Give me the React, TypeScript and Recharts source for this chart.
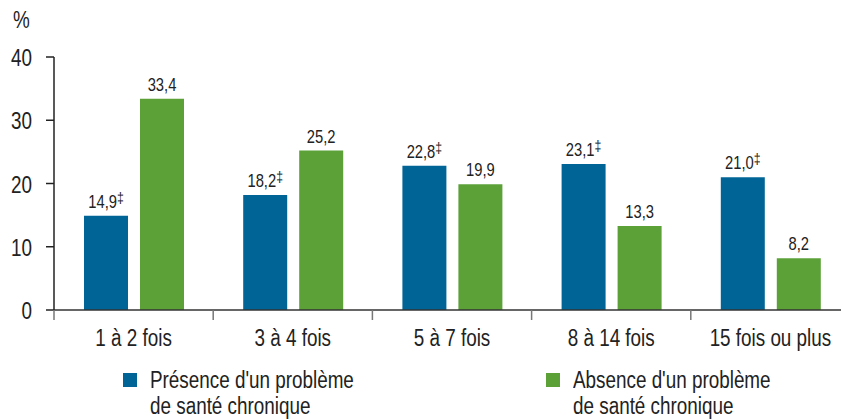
import React from 'react';
import { BarChart, Bar, XAxis, YAxis, LabelList } from 'recharts';

const categories = ['1 à 2 fois', '3 à 4 fois', '5 à 7 fois', '8 à 14 fois', '15 fois ou plus'];
const presence = [14.9, 18.2, 22.8, 23.1, 21.0];
const absence = [33.4, 25.2, 19.9, 13.3, 8.2];
const presenceFlag = ['‡', '‡', '‡', '‡', '‡'];
const yTicks = [0, 10, 20, 30, 40];
const seriesNames = [
  "Présence d'un problème\nde santé chronique",
  "Absence d'un problème\nde santé chronique",
];

const BLUE = '#006596';
const GREEN = '#5ba138';
const TEXT = '#222';
const FONT = '"Liberation Sans", Arial, sans-serif';
const SQUEEZE = 0.82; // fake a condensed face

const CHART_W = 850;
const LEFT = 54;
const BAND = (CHART_W - LEFT) / categories.length;

const data = categories.map((cat, i) => ({
  cat,
  presence: presence[i],
  absence: absence[i],
  flag: presenceFlag[i],
}));

const fmt = (v: number) => v.toFixed(1).replace('.', ',');

function NarrowText({ x, y, size, anchor, children }: any) {
  return (
    <text
      transform={`translate(${x} ${y}) scale(${SQUEEZE} 1)`}
      textAnchor={anchor}
      fontSize={size}
      fill={TEXT}
      fontFamily={FONT}
    >
      {children}
    </text>
  );
}

function ValueLabel(props: any) {
  const { x, y, width, value, index, flagged } = props;
  const flag = flagged ? data[index].flag : '';
  return (
    <NarrowText x={x + width / 2} y={y - 8} size={18} anchor="middle">
      {fmt(value)}
      {flag && (
        <tspan dy={-5} fontSize={15}>
          {flag}
        </tspan>
      )}
    </NarrowText>
  );
}

function CatTick(props: any) {
  const { x, y, payload } = props;
  return (
    <g>
      <line x1={x - BAND / 2} x2={x - BAND / 2} y1={y - 10} y2={y} stroke="#777" strokeWidth={1.5} />
      <NarrowText x={x} y={y + 26} size={23} anchor="middle">
        {payload.value}
      </NarrowText>
    </g>
  );
}

function ValueTick(props: any) {
  const { x, y, payload } = props;
  return (
    <NarrowText x={x} y={y + 9} size={23} anchor="end">
      {payload.value}
    </NarrowText>
  );
}

export default function App() {
  const colors = [BLUE, GREEN];
  const legendX = [123, 546];
  return (
    <div
      style={{
        position: 'absolute',
        left: 0,
        top: 0,
        width: 841,
        height: 420,
        overflow: 'hidden',
        background: '#fff',
        fontFamily: FONT,
        color: TEXT,
      }}
    >
      <div
        style={{
          position: 'absolute',
          left: 13,
          top: 7,
          fontSize: 23,
          transform: `scaleX(${SQUEEZE})`,
          transformOrigin: 'left',
        }}
      >
        %
      </div>
      <BarChart
        width={CHART_W}
        height={420}
        data={data}
        margin={{ top: 57, right: 0, left: 0, bottom: 70 }}
        barSize={44}
        barGap={12}
      >
        <XAxis
          dataKey="cat"
          tickLine={false}
          tickSize={10}
          tickMargin={0}
          axisLine={{ stroke: '#333', strokeWidth: 1.5 }}
          tick={<CatTick />}
          height={40}
          interval={0}
        />
        <YAxis
          domain={[0, 40]}
          ticks={yTicks}
          width={LEFT}
          tickSize={8}
          tickMargin={14}
          axisLine={{ stroke: '#222', strokeWidth: 1.5 }}
          tickLine={{ stroke: '#222', strokeWidth: 1.5 }}
          tick={<ValueTick />}
        />
        <Bar dataKey="presence" fill={BLUE} isAnimationActive={false}>
          <LabelList dataKey="presence" content={<ValueLabel flagged />} />
        </Bar>
        <Bar dataKey="absence" fill={GREEN} isAnimationActive={false}>
          <LabelList dataKey="absence" content={<ValueLabel />} />
        </Bar>
      </BarChart>
      {seriesNames.map((name, i) => (
        <div
          key={i}
          style={{ position: 'absolute', left: legendX[i], top: 367, display: 'flex', alignItems: 'flex-start' }}
        >
          <div style={{ width: 14, height: 14, background: colors[i], marginTop: 6, marginRight: 13 }} />
          <div
            style={{
              whiteSpace: 'pre-line',
              fontSize: 23,
              lineHeight: '26px',
              transform: `scaleX(${SQUEEZE})`,
              transformOrigin: 'left',
            }}
          >
            {name}
          </div>
        </div>
      ))}
    </div>
  );
}
